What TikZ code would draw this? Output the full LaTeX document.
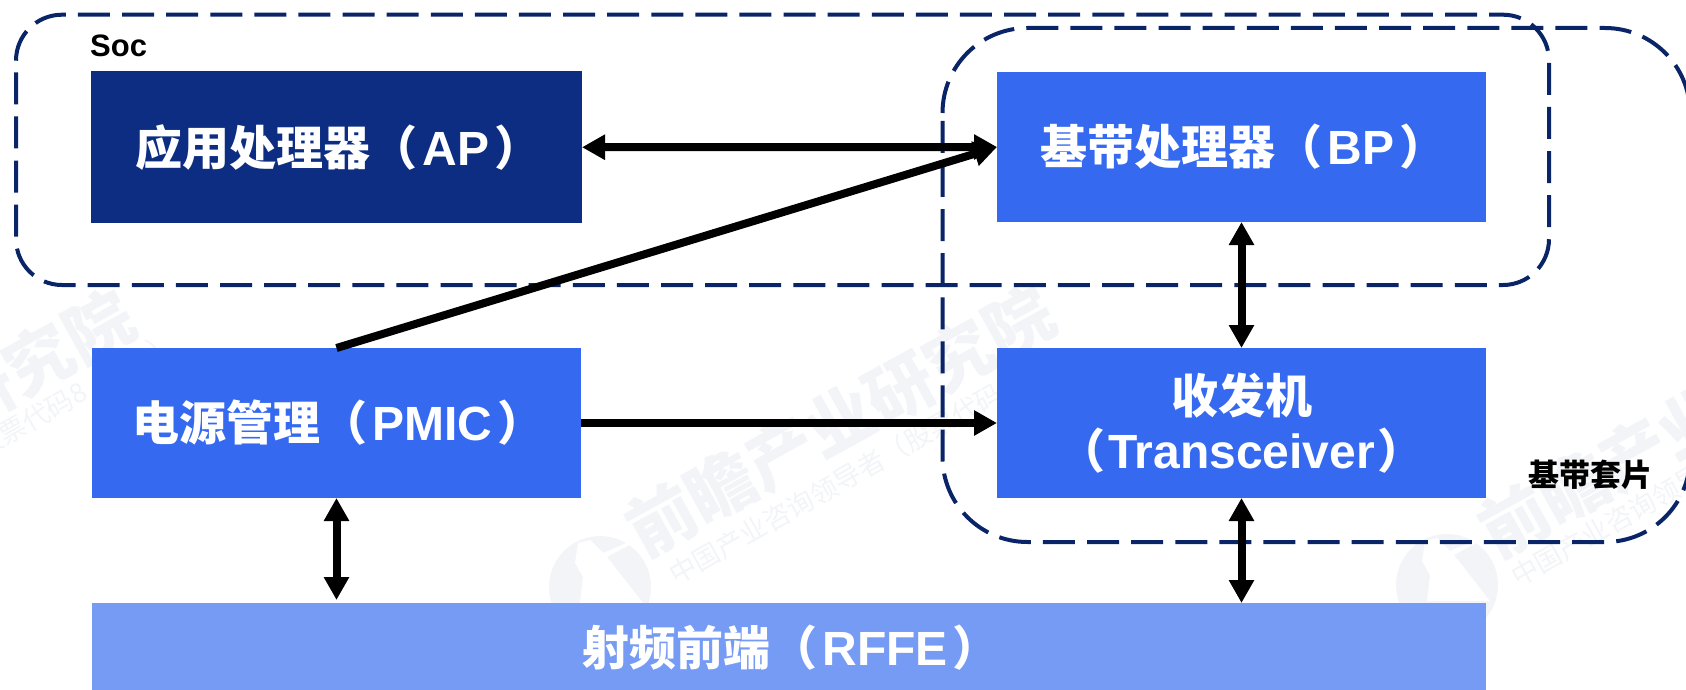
\documentclass[tikz,border=0pt]{standalone}
\usepackage{fontspec}
\setmainfont{Liberation Sans}
\newfontfamily\cjk{Noto Sans CJK SC}
\usetikzlibrary{arrows.meta}
\definecolor{apblue}{HTML}{0C2D82}
\definecolor{boxblue}{HTML}{3569F0}
\definecolor{rfblue}{HTML}{759BF4}
\definecolor{dashblue}{HTML}{0A2468}
\definecolor{wmgrey}{HTML}{F2F4F7}
\newcommand{\zh}[1]{{\cjk\bfseries #1}}
\newcommand{\pair}[4][5pt]{\zh{#2}\hspace{#1}{\fontsize{48}{55}\selectfont #3}\hspace{#1}\zh{#4}}
\tikzset{
  x=1pt,y=-1pt,
  box/.style={draw=none,rectangle,inner sep=0pt,outer sep=0pt,text=white,font=\fontsize{47}{55}\selectfont\bfseries,align=center},
  group/.style={draw=dashblue,line width=4pt,dash pattern=on 32pt off 12.1pt},
  small/.style={font=\fontsize{31}{36}\selectfont\bfseries,text=black,inner sep=0pt},
  link/.style={line width=8pt,-{Triangle[length=23pt,width=24pt]}},
  duplex/.style={line width=8pt,{Triangle[length=23pt,width=24pt]}-{Triangle[length=23pt,width=24pt]}},
  wmbig/.style={rotate=29,text=wmgrey,inner sep=0pt,font=\cjk\bfseries\fontsize{68}{70}\selectfont},
  wmsmall/.style={rotate=29.5,anchor=west,text=wmgrey,inner sep=0pt,font=\cjk\fontsize{27}{30}\selectfont},
  pics/wmlogo/.style={code={
    \fill[wmgrey] (0,0) circle[radius=51pt];
    \fill[white] (-22,-44) -- (-25,-24) -- (-17,-10) -- (-20,16) -- (43,16) -- (7,-30) -- (33,-44) -- (31,-46) -- (3,-34) -- (-10,-47) -- cycle;
  }},
}
\begin{document}
\begin{tikzpicture}
\useasboundingbox (0,0) rectangle (1686,690);
\begin{scope}
\clip (0,0) rectangle (1686,690);
% watermark
\node[wmbig] (wma) at (-80,425) {前瞻产业研究院};
\node[wmbig] (wmb) at (840,421) {前瞻产业研究院};
\node[wmbig] (wmc) at (1693,422) {前瞻产业研究院};
\node[wmsmall] (wmd) at (-258,583) {中国产业咨询领导者（股票代码8\hspace{75pt}）};
\node[wmsmall] (wme) at (671,577) {中国产业咨询领导者（股票代码};
\node[wmsmall] (wmf) at (1513,579) {中国产业咨询领导者（股票代码};
\pic at (600,587) {wmlogo};
\pic at (1447,585) {wmlogo};
% boxes
\node[box,fill=apblue,minimum width=491pt,minimum height=151.5pt] (ap) at (336.5,147.25) {\hspace{4pt}\raisebox{-4pt}{\pair{应用处理器（}{AP}{）}}};
\node[box,fill=boxblue,minimum width=489pt,minimum height=150pt] (bp) at (1241.5,147) {\hspace{4pt}\raisebox{-4pt}{\pair{基带处理器（}{BP}{）}}};
\node[box,fill=boxblue,minimum width=489pt,minimum height=150pt] (pmic) at (336.5,423) {\hspace{4pt}\raisebox{-2.5pt}{\pair{电源管理（}{PMIC}{）}}};
\node[box,fill=boxblue,minimum width=489pt,minimum height=150pt] (tr) at (1241.5,423) {\raisebox{-3.5pt}{\zh{收发机}}\\\raisebox{-3.5pt}{\pair[3pt]{（}{Transceiver}{）}}};
\node[box,fill=rfblue,minimum width=1394pt,minimum height=90pt] (rf) at (789,648) {\hspace{4pt}\pair{射频前端（}{RFFE}{）}};
\node[small,anchor=west] (soc) at (90,46) {Soc};
\node[small,anchor=west] (bb) at (1528,475) {\zh{基带套片}};
% dashed groups, both starting where the upper-left corner begins
\draw[group] (16,60.7) .. controls (16,35.3) and (36.6,14.7) .. (62,14.7) -- (1503,14.7) .. controls (1528.4,14.7) and (1549,35.3) .. (1549,60.7) -- (1549,239) .. controls (1549,264.4) and (1528.4,285) .. (1503,285) -- (62,285) .. controls (36.6,285) and (16,264.4) .. (16,239) -- cycle;
\draw[group] (942.5,113) .. controls (942.5,66) and (980.5,28) .. (1027.5,28) -- (1605,28) .. controls (1652,28) and (1690,66) .. (1690,113) -- (1690,457) .. controls (1690,504) and (1652,542) .. (1605,542) -- (1027.5,542) .. controls (980.5,542) and (942.5,504) .. (942.5,457) -- cycle;
% connectors
\draw[duplex] (ap.east) -- (bp.west);
\draw[link] (pmic.north) -- (bp.west);
\draw[link] (pmic.east) -- (tr.west);
\draw[duplex] (bp.south) -- (tr.north);
\draw[duplex] (tr.south) -- (tr.south |- rf.north);
\draw[duplex,shorten >=3pt] (pmic.south) -- (pmic.south |- rf.north);
\end{scope}
\end{tikzpicture}
\end{document}
